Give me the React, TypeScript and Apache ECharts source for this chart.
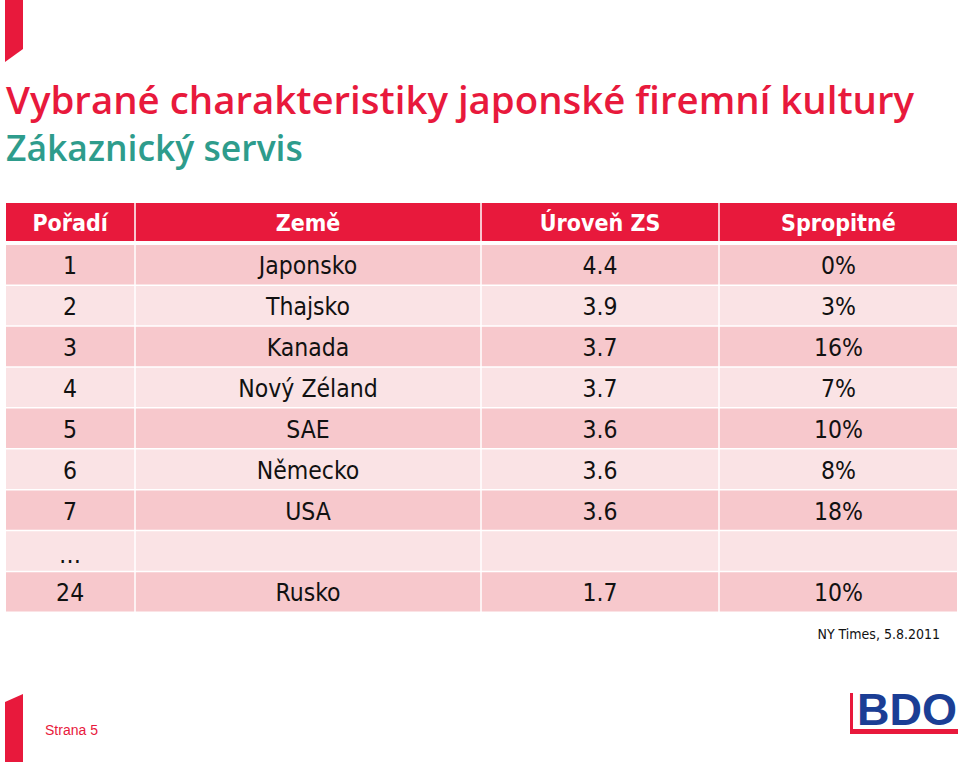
import React, { useEffect, useRef } from "react";
import * as echarts from "echarts";

const title = "Vybrané charakteristiky japonské firemní kultury";
const subtitle = "Zákaznický servis";
const headers = ["Pořadí", "Země", "Úroveň ZS", "Spropitné"];
const ranks = ["1", "2", "3", "4", "5", "6", "7", "…", "24"];
const countries = ["Japonsko", "Thajsko", "Kanada", "Nový Zéland", "SAE", "Německo", "USA", "", "Rusko"];
const serviceLevels = ["4.4", "3.9", "3.7", "3.7", "3.6", "3.6", "3.6", "", "1.7"];
const tips = ["0%", "3%", "16%", "7%", "10%", "8%", "18%", "", "10%"];
const sourceNote = "NY Times, 5.8.2011";
const pageLabel = "Strana 5";

const RED = "#E8193C";
const TEAL = "#2E9C8C";
const ROW_DARK = "#F7C8CC";
const ROW_LIGHT = "#FAE3E5";
const TABLE_FONT = "'DejaVu Sans Condensed', 'DejaVu Sans', sans-serif";
const TITLE_FONT = "'Open Sans', 'Noto Sans', sans-serif";

export default function App() {
  const ref = useRef<HTMLDivElement>(null);
  useEffect(() => {
    document.body.style.margin = "0";
    const chart = echarts.init(ref.current!, null, { renderer: "svg" });
    const colEdges = [6, 135, 481, 719, 957];
    const headerTop = 203;
    const headerH = 38;
    const rowsTop = 245;
    const rowPitch = 40.9;
    const gap = 1.5;
    const els: any[] = [];

    // decorative red bars
    els.push({ type: "polygon", shape: { points: [[5, 0], [23, 0], [23, 49], [5, 62]] }, style: { fill: RED } });
    els.push({ type: "polygon", shape: { points: [[5, 702], [23, 694], [23, 762], [5, 762]] }, style: { fill: RED } });

    els.push({ type: "text", x: 6, y: 99, style: { text: title, fill: RED, font: `600 38.4px ${TITLE_FONT}`, textVerticalAlign: "middle" } });
    els.push({ type: "text", x: 6, y: 147, style: { text: subtitle, fill: TEAL, font: `600 35.5px ${TITLE_FONT}`, textVerticalAlign: "middle" } });

    const columns = [ranks, countries, serviceLevels, tips];
    for (let c = 0; c < 4; c++) {
      const x0 = colEdges[c] + (c === 0 ? 0 : gap / 2);
      const x1 = colEdges[c + 1] - (c === 3 ? 0 : gap / 2);
      els.push({ type: "rect", shape: { x: x0, y: headerTop, width: x1 - x0, height: headerH }, style: { fill: RED } });
      els.push({
        type: "text", x: (x0 + x1) / 2, y: headerTop + headerH / 2 + 1,
        style: { text: headers[c], fill: "#ffffff", font: `bold 23px ${TABLE_FONT}`, textAlign: "center", textVerticalAlign: "middle" },
      });
      for (let r = 0; r < ranks.length; r++) {
        const y0 = rowsTop + r * rowPitch;
        els.push({ type: "rect", shape: { x: x0, y: y0, width: x1 - x0, height: rowPitch - gap }, style: { fill: r % 2 === 0 ? ROW_DARK : ROW_LIGHT } });
        const txt = columns[c][r];
        if (txt) {
          els.push({
            type: "text", x: (x0 + x1) / 2, y: y0 + (rowPitch - gap) / 2 + (txt === "…" ? 3 : 1),
            style: { text: txt, fill: "#111111", font: `24.5px ${TABLE_FONT}`, textAlign: "center", textVerticalAlign: "middle" },
          });
        }
      }
    }

    els.push({ type: "text", x: 940, y: 634, style: { text: sourceNote, fill: "#111", font: `14px ${TABLE_FONT}`, textAlign: "right", textVerticalAlign: "middle" } });
    els.push({ type: "text", x: 45, y: 730, style: { text: pageLabel, fill: RED, font: `14px 'Liberation Sans', Arial, sans-serif`, textVerticalAlign: "middle" } });

    // BDO logo
    els.push({ type: "polygon", shape: { points: [[850, 693], [853, 693], [853, 729], [958, 729], [958, 734], [850, 734]] }, style: { fill: RED } });
    els.push({ type: "text", x: 907, y: 709, style: { text: "BDO", fill: "#1B3E95", font: `bold 45px 'Liberation Sans', Arial, sans-serif`, textAlign: "center", textVerticalAlign: "middle" } });

    chart.setOption({ animation: false, graphic: { elements: els } });
    return () => chart.dispose();
  }, []);
  return <div ref={ref} style={{ width: 960, height: 762, position: "absolute", left: 0, top: 0, background: "#fff" }} />;
}
